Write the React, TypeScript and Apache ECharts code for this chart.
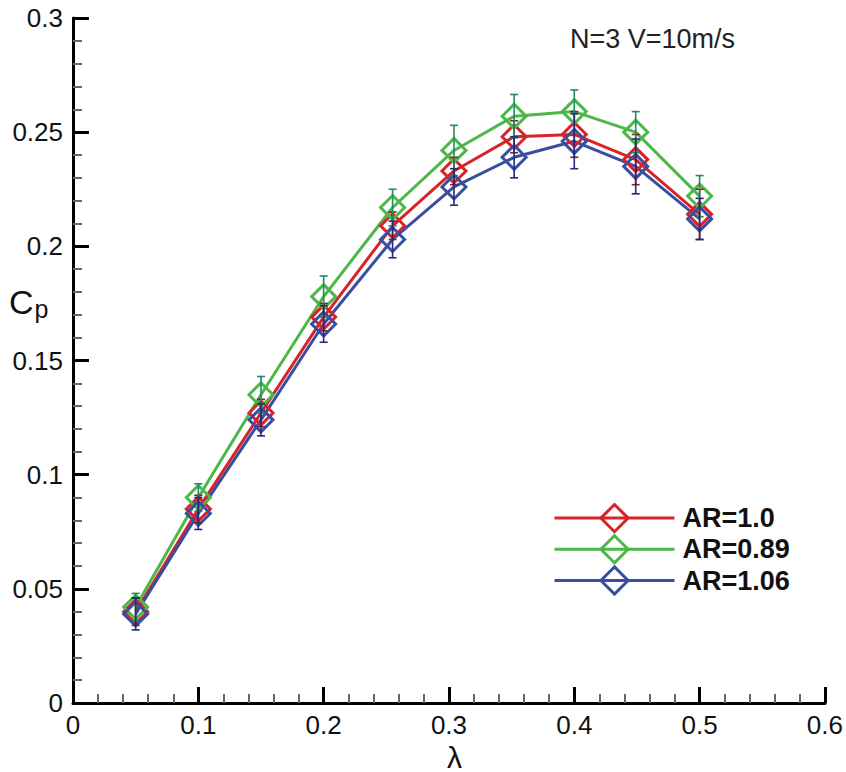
import React, { useEffect, useRef } from "react";
import * as echarts from "echarts";

const lambda = [0.05, 0.1, 0.15, 0.2, 0.255, 0.304, 0.352, 0.4, 0.449, 0.5];
const cpAR10 = [0.040, 0.085, 0.127, 0.169, 0.209, 0.233, 0.248, 0.249, 0.238, 0.214];
const cpAR089 = [0.042, 0.090, 0.135, 0.178, 0.217, 0.242, 0.257, 0.259, 0.250, 0.222];
const cpAR106 = [0.039, 0.083, 0.124, 0.166, 0.203, 0.226, 0.239, 0.246, 0.235, 0.212];
const errAR10 = [0.006, 0.006, 0.006, 0.006, 0.006, 0.006, 0.007, 0.010, 0.011, 0.011];
const errAR089 = [0.006, 0.006, 0.008, 0.009, 0.008, 0.011, 0.0095, 0.0095, 0.009, 0.009];
const errAR106 = [0.007, 0.007, 0.007, 0.008, 0.008, 0.008, 0.009, 0.012, 0.012, 0.009];
const seriesNames = ["AR=1.0", "AR=0.89", "AR=1.06"];
const xTicks = { min: 0, max: 0.6, interval: 0.1 };
const yTicks = { min: 0, max: 0.3, interval: 0.05 };

const FONT = "Arial, 'Liberation Sans', Helvetica, sans-serif";
const RED = "#d8232a";
const GREEN = "#4db848";
const BLUE = "#3a4ea0";
const RED_ERR = "#8c1a2a";
const GREEN_ERR = "#1f8a62";
const BLUE_ERR = "#23287a";

function lineSeries(name: string, ys: number[], color: string) {
  return {
    name,
    type: "line",
    data: lambda.map((x, i) => [x, ys[i]]),
    symbol: "diamond",
    symbolSize: 24,
    lineStyle: { color, width: 3 },
    itemStyle: { color: "rgba(255,255,255,0)", borderColor: color, borderWidth: 3 },
    z: 3,
  };
}

function errSeries(name: string, ys: number[], errs: number[], color: string) {
  return {
    name: name + " err",
    type: "custom",
    data: lambda.map((x, i) => [x, ys[i], errs[i]]),
    encode: { x: 0, y: 1 },
    z: 5,
    renderItem: (params: any, api: any) => {
      const x = api.value(0);
      const y = api.value(1);
      const e = api.value(2);
      const top = api.coord([x, y + e]);
      const bot = api.coord([x, y - e]);
      const hw = 4;
      const style = { stroke: color, lineWidth: 1.6 };
      return {
        type: "group",
        children: [
          { type: "line", shape: { x1: top[0], y1: top[1], x2: bot[0], y2: bot[1] }, style },
          { type: "line", shape: { x1: top[0] - hw, y1: top[1], x2: top[0] + hw, y2: top[1] }, style },
          { type: "line", shape: { x1: bot[0] - hw, y1: bot[1], x2: bot[0] + hw, y2: bot[1] }, style },
        ],
      };
    },
  };
}

export default function App() {
  const ref = useRef<HTMLDivElement>(null);
  useEffect(() => {
    if (!ref.current) return;
    document.body.style.margin = "0";
    const chart = echarts.init(ref.current, undefined, { renderer: "svg" });
    const axisCommon = {
      type: "value",
      axisLine: { show: true, lineStyle: { color: "#000", width: 3 } },
      axisTick: { show: true, inside: true, length: 16, lineStyle: { color: "#000", width: 3 } },
      minorTick: { show: true, splitNumber: 5, length: 9, lineStyle: { color: "#666", width: 2 } },
      splitLine: { show: false },
      minorSplitLine: { show: false },
    };
    chart.setOption({
      animation: false,
      backgroundColor: "#fff",
      grid: { left: 73, top: 18, right: 19, bottom: 69, containLabel: false },
      xAxis: {
        ...axisCommon,
        ...xTicks,
        axisLabel: { fontSize: 26, color: "#111", margin: 9, fontFamily: FONT },
      },
      yAxis: {
        ...axisCommon,
        ...yTicks,
        axisLabel: { fontSize: 26, color: "#111", margin: 10, fontFamily: FONT },
      },
      legend: {
        data: seriesNames,
        orient: "vertical",
        left: 553,
        top: 503,
        padding: 0,
        itemWidth: 120,
        itemHeight: 34,
        itemGap: 1,
        lineStyle: { width: 3 },
        itemStyle: { borderWidth: 3 },
        textStyle: { fontSize: 27, fontWeight: "bold", color: "#111", fontFamily: FONT, padding: [0, 0, 0, 3] },
      },
      graphic: [
        {
          type: "text",
          left: 570,
          top: 25,
          style: { text: "N=3 V=10m/s", font: `27px ${FONT}`, fill: "#222" },
        },
        {
          type: "text",
          left: 9,
          top: 285,
          style: {
            text: "{c|C}{p|p}",
            rich: {
              c: { fontSize: 34, fontFamily: FONT, fill: "#111" } as any,
              p: { fontSize: 25, fontFamily: FONT, fill: "#111", padding: [14, 0, 0, 1] } as any,
            },
          } as any,
        },
        {
          type: "text",
          left: 447,
          top: 742,
          style: { text: "λ", font: `30px ${FONT}`, fill: "#111", lineHeight: 28 },
        },
      ],
      series: [
        lineSeries(seriesNames[0], cpAR10, RED),
        lineSeries(seriesNames[1], cpAR089, GREEN),
        lineSeries(seriesNames[2], cpAR106, BLUE),
        errSeries(seriesNames[0], cpAR10, errAR10, RED_ERR),
        errSeries(seriesNames[1], cpAR089, errAR089, GREEN_ERR),
        errSeries(seriesNames[2], cpAR106, errAR106, BLUE_ERR),
      ],
    });
    return () => chart.dispose();
  }, []);
  return <div ref={ref} style={{ width: 846, height: 772 }} />;
}
